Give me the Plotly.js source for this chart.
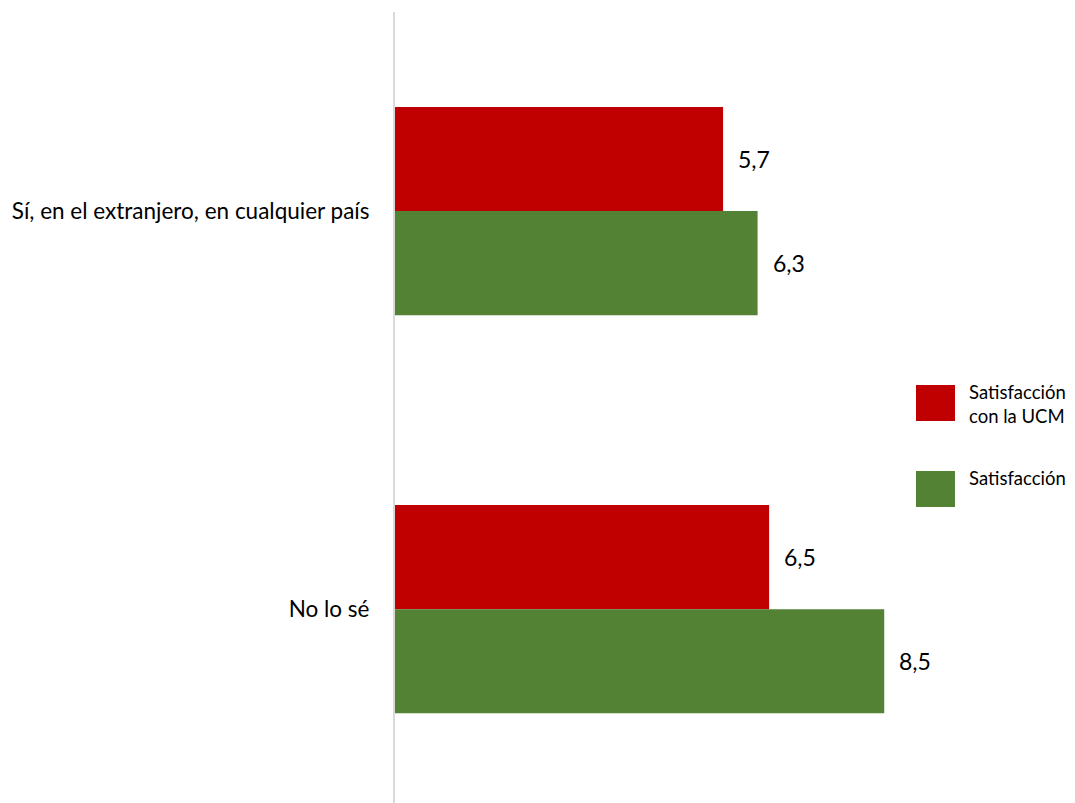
<!DOCTYPE html>
<html>
<head>
<meta charset="utf-8">
<script src="https://cdn.plot.ly/plotly-3.0.1.min.js"></script>
<style>html,body{margin:0;padding:0;background:#fff;}#chart{width:1075px;height:803px;}</style>
</head>
<body>
<div id="chart"></div>
<script>
const categories = ["Sí, en el extranjero, en cualquier país", "No lo sé"];
const seriesNames = ["Satisfacción<br>con la UCM", "Satisfacción"];
const ucmValues = [5.7, 6.5];
const satValues = [6.3, 8.5];
const ucmLabels = ["5,7", "6,5"];
const satLabels = ["6,3", "8,5"];
const colors = ["#C00000", "#548235"];

const font = "Lato, 'Open Sans', sans-serif";

const traces = [
  {type: 'bar', orientation: 'h', y: categories, x: ucmValues, name: seriesNames[0],
   marker: {color: colors[0]}, hoverinfo: 'none'},
  {type: 'bar', orientation: 'h', y: categories, x: satValues, name: seriesNames[1],
   marker: {color: colors[1]}, hoverinfo: 'none'}
];

const annotations = [];
categories.forEach((c, i) => {
  annotations.push({x: ucmValues[i], y: i, xref: 'x', yref: 'y', text: ucmLabels[i],
    showarrow: false, xanchor: 'left', yanchor: 'middle', xshift: 13, yshift: 52,
    font: {family: font, size: 23, color: '#000'}});
  annotations.push({x: satValues[i], y: i, xref: 'x', yref: 'y', text: satLabels[i],
    showarrow: false, xanchor: 'left', yanchor: 'middle', xshift: 13, yshift: -52,
    font: {family: font, size: 23, color: '#000'}});
});

// custom legend (paper coordinates)
const W = 518, H = 791, L = 395, T = 12;
const px = v => (v - L) / W;
const py = v => (T + H - v) / H;
const shapes = [];
const legendTops = [385, 471];
seriesNames.forEach((n, i) => {
  shapes.push({type: 'rect', xref: 'paper', yref: 'paper',
    x0: px(916), x1: px(955), y0: py(legendTops[i]), y1: py(legendTops[i] + 36),
    fillcolor: colors[i], line: {width: 0}});
  annotations.push({xref: 'paper', yref: 'paper', x: px(967), y: py(legendTops[i] - 6),
    xanchor: 'left', yanchor: 'top', align: 'left', showarrow: false, text: n,
    font: {family: font, size: 18.5, color: '#000'}});
});

const layout = {
  width: 1075, height: 803,
  margin: {l: L, r: 1075 - L - W, t: T, b: 0},
  paper_bgcolor: '#fff', plot_bgcolor: '#fff',
  showlegend: false,
  barmode: 'group', bargap: 0.477, bargroupgap: 0,
  xaxis: {range: [0, 9], showgrid: false, zeroline: false, showticklabels: false, ticks: '', showline: false, fixedrange: true},
  yaxis: {type: 'category', range: [1.487, -0.5], showgrid: false, zeroline: false,
    showline: true, linecolor: '#d9d9d9', linewidth: 2,
    ticks: 'outside', ticklen: 19, tickcolor: 'rgba(0,0,0,0)',
    tickfont: {family: font, size: 22.5, color: '#000'}, fixedrange: true},
  annotations: annotations,
  shapes: shapes
};

Plotly.newPlot('chart', traces, layout, {displayModeBar: false, staticPlot: true});
</script>
</body>
</html>
